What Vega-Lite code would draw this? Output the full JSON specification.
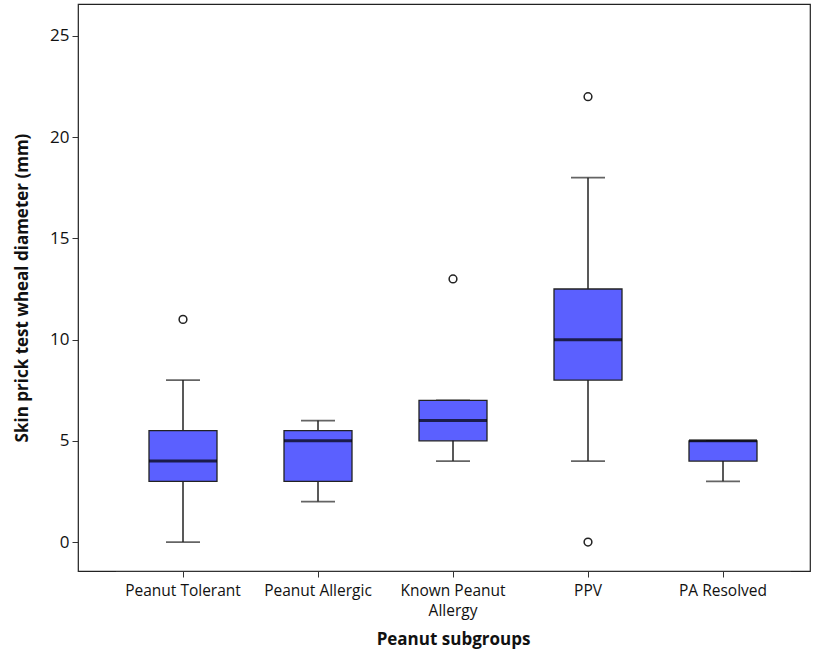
{
  "$schema": "https://vega.github.io/schema/vega-lite/v6.json",
  "autosize": "none",
  "width": 732,
  "height": 567,
  "padding": {"left": 78, "top": 4, "right": 7, "bottom": 91},
  "background": "white",
  "config": {
    "view": {"stroke": "#222222", "strokeWidth": 1.2},
    "font": "Open Sans",
    "axis": {
      "domainColor": "#333333",
      "tickColor": "#333333",
      "labelColor": "#111111",
      "titleColor": "#111111",
      "labelFont": "Open Sans",
      "titleFont": "Open Sans",
      "grid": false
    }
  },
  "datasets": {
    "boxes": [
      {"group": "Peanut Tolerant", "lo": 0, "q1": 3, "median": 4, "q3": 5.5, "hi": 8},
      {"group": "Peanut Allergic", "lo": 2, "q1": 3, "median": 5, "q3": 5.5, "hi": 6},
      {"group": "Known Peanut Allergy", "lo": 4, "q1": 5, "median": 6, "q3": 7, "hi": 7},
      {"group": "PPV", "lo": 4, "q1": 8, "median": 10, "q3": 12.5, "hi": 18},
      {"group": "PA Resolved", "lo": 3, "q1": 4, "median": 5, "q3": 5, "hi": 5}
    ],
    "outliers": [
      {"group": "Peanut Tolerant", "value": 11},
      {"group": "Known Peanut Allergy", "value": 13},
      {"group": "PPV", "value": 22},
      {"group": "PPV", "value": 0}
    ]
  },
  "encoding": {
    "x": {
      "field": "group",
      "type": "nominal",
      "sort": ["Peanut Tolerant", "Peanut Allergic", "Known Peanut Allergy", "PPV", "PA Resolved"],
      "scale": {"range": [37.5, 712.5], "paddingInner": 0.5, "paddingOuter": 0.25},
      "axis": {
        "title": "Peanut subgroups",
        "labelAngle": 0,
        "labelFontSize": 15.5,
        "labelPadding": 6,
        "tickSize": 6,
        "labelLimit": 200,
        "labelLineHeight": 20,
        "labelExpr": "datum.label == 'Known Peanut Allergy' ? ['Known Peanut', 'Allergy'] : datum.label",
        "titleFontSize": 17,
        "titleFontWeight": "bold",
        "titlePadding": 13
      }
    }
  },
  "layer": [
    {
      "data": {"name": "boxes"},
      "mark": {"type": "rule", "color": "#222222", "strokeWidth": 1.5},
      "encoding": {
        "y": {
          "field": "lo",
          "type": "quantitative",
          "scale": {"domain": [-1.43, 26.58], "nice": false, "zero": false},
          "axis": {
            "title": "Skin prick test wheal diameter (mm)",
            "values": [0, 5, 10, 15, 20, 25],
            "labelFontSize": 17,
            "labelPadding": 3,
            "tickSize": 6,
            "titleFontSize": 17,
            "titleFontWeight": "bold",
            "titlePadding": 18
          }
        },
        "y2": {"field": "hi"}
      }
    },
    {
      "data": {"name": "boxes"},
      "mark": {"type": "tick", "color": "#222222", "size": 34, "thickness": 1.8},
      "encoding": {"y": {"field": "lo", "type": "quantitative"}}
    },
    {
      "data": {"name": "boxes"},
      "mark": {"type": "tick", "color": "#222222", "size": 34, "thickness": 1.8},
      "encoding": {"y": {"field": "hi", "type": "quantitative"}}
    },
    {
      "data": {"name": "boxes"},
      "mark": {"type": "bar", "size": 68, "color": "#5b60ff", "stroke": "#222222", "strokeWidth": 1.3},
      "encoding": {
        "y": {"field": "q1", "type": "quantitative"},
        "y2": {"field": "q3"}
      }
    },
    {
      "data": {"name": "boxes"},
      "mark": {"type": "tick", "color": "#000000", "size": 68, "thickness": 3},
      "encoding": {"y": {"field": "median", "type": "quantitative"}}
    },
    {
      "data": {"name": "outliers"},
      "mark": {"type": "point", "shape": "circle", "filled": false, "color": "#222222", "fill": "white", "fillOpacity": 1, "size": 60, "strokeWidth": 1.5},
      "encoding": {"y": {"field": "value", "type": "quantitative"}}
    }
  ]
}
